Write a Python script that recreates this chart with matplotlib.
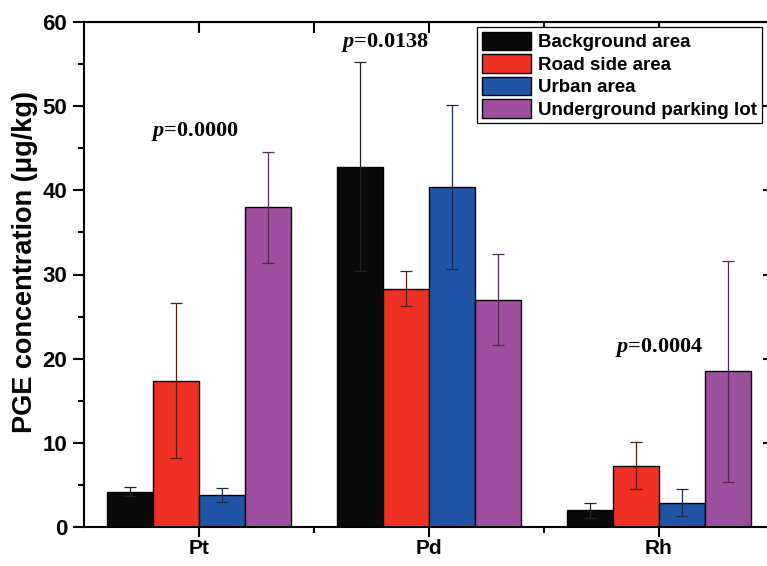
import numpy as np
import matplotlib
matplotlib.use("Agg")
import matplotlib.pyplot as plt
from matplotlib.ticker import MultipleLocator, FixedLocator

# PGE concentration data (ug/kg)
metals = ['Pt', 'Pd', 'Rh']
areas = ['Background area', 'Road side area', 'Urban area', 'Underground parking lot']
means = [
    [4.2, 42.8, 2.0],    # background
    [17.4, 28.3, 7.3],   # road side
    [3.8, 40.4, 2.9],    # urban
    [38.0, 27.0, 18.5],  # parking lot
]
errs = [
    [0.5, 12.4, 0.9],
    [9.2, 2.1, 2.8],
    [0.8, 9.7, 1.6],
    [6.6, 5.4, 13.1],
]
p_labels = ['0.0000', '0.0138', '0.0004']
p_xpos = [0.98, 1.81, 3.0]
p_ypos = [47.0, 57.6, 21.3]

colors = ['#0a0a0a', '#ee3124', '#1f54a6', '#9e4f9f']
err_colors = ['#222222', '#5a1a14', '#1a2a4e', '#4e2a4e']

plt.rcParams['mathtext.fontset'] = 'custom'
plt.rcParams['mathtext.it'] = 'Liberation Serif:italic:bold'

fig = plt.figure(figsize=(7.67, 5.66), dpi=100)
ax = fig.add_axes([84 / 767, 1 - 527 / 566, 690 / 767, 505 / 566])

x = np.arange(1, len(metals) + 1)
w = 0.2
for i in range(len(areas)):
    pos = x + (i - 1.5) * w
    ax.bar(pos, means[i], width=w, color=colors[i], edgecolor='black',
           linewidth=1.0, label=areas[i], zorder=2)
    ax.errorbar(pos, means[i], yerr=errs[i], fmt='none', ecolor=err_colors[i],
                elinewidth=0.9, capsize=4, capthick=0.9, zorder=3)

for xp, lab, yp in zip(p_xpos, p_labels, p_ypos):
    ax.text(xp, yp, r'$\mathit{p}$=' + lab, ha='center', va='center',
            fontsize=16, fontweight='bold', family='Liberation Serif')

ax.set_xlim(0.5, 3.5)
ax.set_ylim(0, 60)
ax.set_xticks(x)
ax.set_xticklabels(metals, fontsize=15, fontweight='bold', family='Liberation Sans')
ax.xaxis.set_minor_locator(FixedLocator([1.5, 2.5]))
ax.yaxis.set_major_locator(MultipleLocator(10))
ax.yaxis.set_minor_locator(MultipleLocator(5))
for t in ax.get_yticklabels():
    t.set_fontsize(16)
    t.set_fontweight('bold')
    t.set_family('Liberation Sans')

ax.tick_params(axis='y', which='major', direction='out', length=8, width=1.5, pad=4)
ax.tick_params(axis='y', which='minor', direction='out', length=4.5, width=1.5)
ax.tick_params(axis='x', which='major', direction='out', length=7, width=1.5, pad=2)
ax.tick_params(axis='x', which='minor', direction='out', length=4, width=1.5)

ax.set_ylabel('PGE concentration (\u03bcg/kg)', fontsize=19.5, fontweight='bold',
              family='Liberation Sans')
ax.yaxis.set_label_coords(-0.066, 0.525)

for s in ax.spines.values():
    s.set_linewidth(1.5)

# top / right tick marks
axt = ax.secondary_xaxis('top')
axt.set_xticks([1, 1.5, 2, 2.5, 3])
axt.tick_params(direction='in', length=8, width=1.5, labeltop=False)
axr = ax.secondary_yaxis('right')
axr.set_yticks([0, 10, 20, 30, 40, 50, 60])
axr.tick_params(direction='in', length=8, width=1.5, labelright=False)

leg = ax.legend(loc='upper right', bbox_to_anchor=(762 / 767, 1 - 27 / 566),
                bbox_transform=fig.transFigure, borderaxespad=0,
                prop={'family': 'Liberation Sans', 'weight': 'bold', 'size': 13.5},
                handlelength=2.6, handleheight=1.15, labelspacing=0.15,
                handletextpad=0.4, borderpad=0.25, fancybox=False,
                edgecolor='black', framealpha=1)
leg.get_frame().set_linewidth(0.9)

fig.savefig('out.png', dpi=100)
